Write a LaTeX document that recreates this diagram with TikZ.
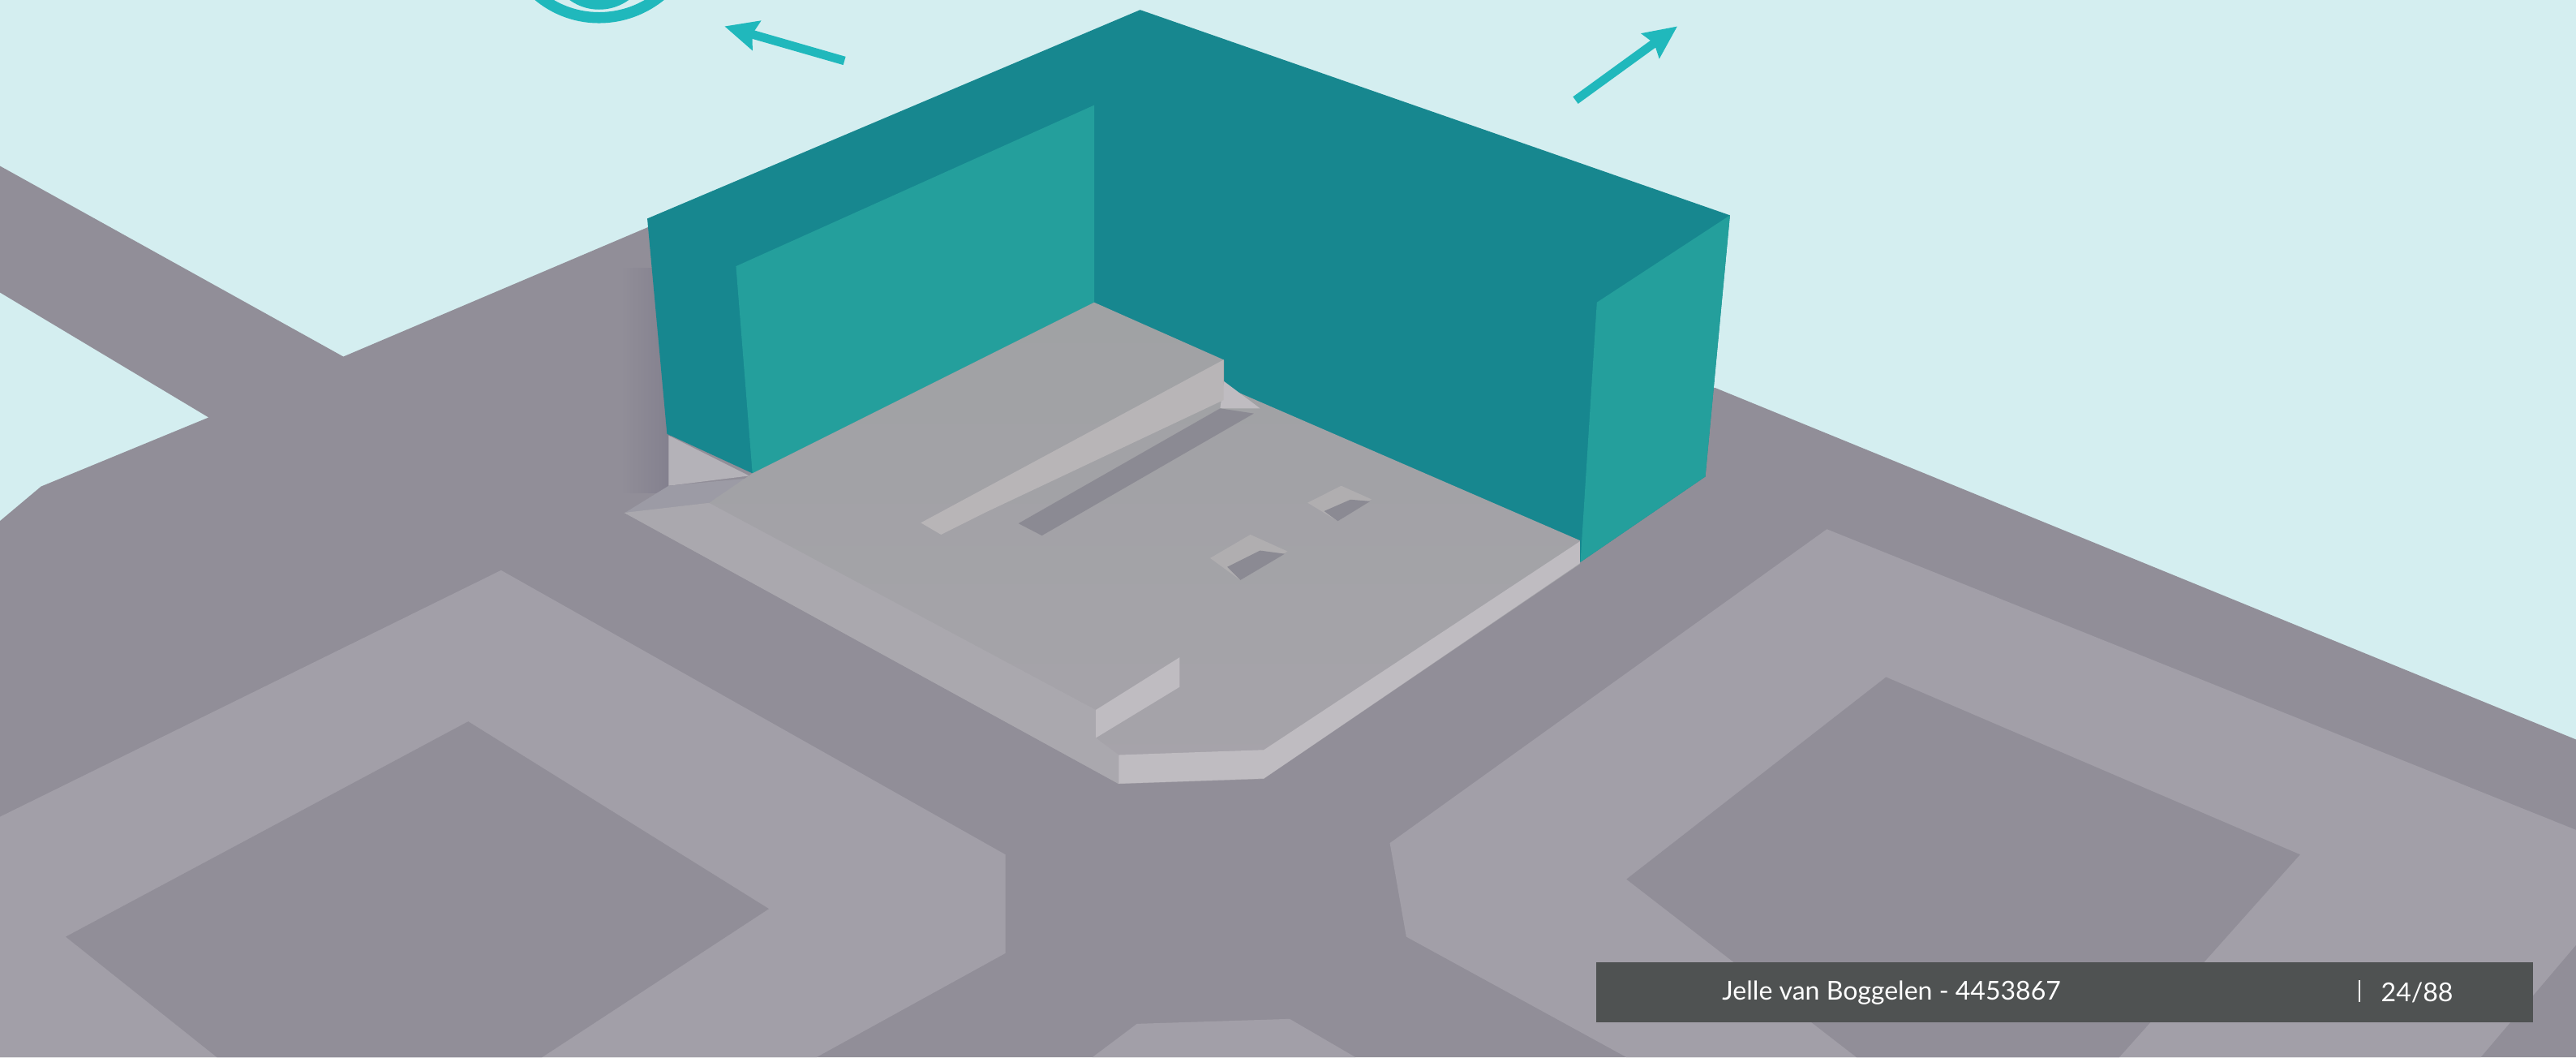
\documentclass[tikz,border=0pt]{standalone}
\usepackage{fontspec}
\setmainfont{Lato}
\usepackage{xcolor}
\usetikzlibrary{arrows.meta}
\definecolor{skyblue}{HTML}{D4EEF0}
\definecolor{roadgrey}{HTML}{918E98}
\definecolor{shadowgrey}{HTML}{83808E}
\definecolor{blockgrey}{HTML}{A29FA8}
\definecolor{plazatop}{HTML}{A0A2A4}
\definecolor{plazabottom}{HTML}{A6A3AA}
\definecolor{lipgrey}{HTML}{AAA8AE}
\definecolor{lowgrey}{HTML}{9C9BA5}
\definecolor{cornergrey}{HTML}{B4B2B8}
\definecolor{stripgrey}{HTML}{B8B5B7}
\definecolor{holegrey}{HTML}{B0AEB0}
\definecolor{edgegrey}{HTML}{BFBCC1}
\definecolor{slitgrey}{HTML}{8B8A93}
\definecolor{darkteal}{HTML}{17878F}
\definecolor{wallteal}{HTML}{249F9C}
\definecolor{arrowteal}{HTML}{20B8BC}
\definecolor{barcolor}{HTML}{4F5252}
\tikzset{
  viewarrow/.style={-{Stealth[length=0.4cm,width=0.36cm,inset=0.05cm]},arrowteal,line width=3pt},
  bartext/.style={text=white,font=\fontsize{9pt}{10pt}\selectfont,inner sep=0pt,anchor=west}
}

\begin{document}
\begin{tikzpicture}[x=0.02cm,y=-0.02cm]
  \useasboundingbox (0,0) rectangle (1568,643.3);
  \clip (0,0) rectangle (1568,643.3);
  \fill[skyblue](0,0) rectangle (1568,643.3);
  % ground and blocks
  \fill[roadgrey](0,101)--(209,217)--(395,138)--(1044,236)--(1568,450)--(1568,643.3)--(0,643.3)--(0,317)--(25,296)--(127,254)--(0,178)--cycle;
  \fill[blockgrey](0,497)--(305,347)--(612,520)--(612,580)--(497,643.3)--(0,643.3)--cycle;
  \fill[roadgrey](40,570)--(285,439)--(468,553)--(330,643.3)--(132,643.3)--cycle;
  \fill[blockgrey](846,513)--(1112,322)--(1568,505)--(1568,575)--(1510,643.3)--(990,643.3)--(856,570)--cycle;
  \fill[roadgrey](990,535)--(1148,412)--(1400,520)--(1290,643.3)--(1130,643.3)--cycle;
  \fill[blockgrey](665,643.3)--(692,623)--(785,620)--(825,643.3)--cycle;
  \shade[left color=roadgrey,right color=shadowgrey](378,163) rectangle (408,300);
  % building
  \fill[darkteal](394,133)--(694,6)--(1053,131)--(1038,290)--(962,342)--(745,240)--(458,288)--(406,264)--cycle;
  \fill[wallteal](448,162)--(666,64)--(666,184)--(458,288)--cycle;
  \fill[wallteal](972,184)--(1053,131)--(1038,290)--(962,342)--cycle;
  % plaza
  \fill[cornergrey](407,265)--(456,289.5)--(407,295.6)--cycle;
  \fill[lowgrey](407,295.6)--(456,291)--(431.6,306)--(380.4,312)--cycle;
  \shade[top color=plazatop,bottom color=plazabottom](458,288)--(666,184)--(745,219)--(745,235)--(962,329)--(962,343)--(769,474)--(681,477)--(380,312)--(431.6,306)--cycle;
  \fill[lipgrey](380,312)--(431.6,306)--(667,432)--(667,449)--(681,459.4)--(681,477)--cycle;
  \fill[edgegrey](745,232)--(767,248.5)--(742.7,248.5)--cycle;
  \fill[stripgrey](744.8,218.9)--(744.8,243.4)--(599.4,312)--(572.8,325.3)--(560.5,318.1)--cycle;
  \fill[slitgrey](742.7,248.5)--(763.2,251.6)--(634.2,325.9)--(619.9,318.5)--cycle;
  % two small holes
  \fill[holegrey](816.4,295.6)--(834.8,303.8)--(814.3,317.1)--(795.9,305.9)--cycle;
  \fill[slitgrey](834,305)--(814.3,317.1)--(806,311)--(822,304)--cycle;
  \fill[holegrey](761.1,325.3)--(783.7,335.5)--(755,353)--(736.6,339.6)--cycle;
  \fill[slitgrey](782,337)--(755,353)--(747,345)--(767,335)--cycle;
  % faces of the raised edge
  \fill[edgegrey](667,432)--(718,400)--(718,418)--(667,449)--cycle;
  \fill[edgegrey](681,459.4)--(769.3,456.3)--(769.3,473.7)--(681,476.8)--cycle;
  \fill[edgegrey](961.7,329.4)--(961.7,342.7)--(769.3,473.7)--(769.3,456.3)--cycle;
  % eye and arrows
  \fill[arrowteal](364.7,-25) circle (30.8);
  \draw[arrowteal,line width=3.8pt](322,-8)..controls (345,17) and (384,17)..(408,-8);
  \coordinate (leftstart) at (514,37);
  \coordinate (leftend) at (441,16);
  \coordinate (rightstart) at (959,61);
  \coordinate (rightend) at (1021,16);
  \draw[viewarrow](leftstart)--(leftend);
  \draw[viewarrow](rightstart)--(rightend);
  % footer
  \fill[barcolor](971.4,585.5) rectangle (1542,622);
  \node[bartext] (author) at (1048,604){Jelle van Boggelen - 4453867};
  \node[bartext] (page) at (1449,604){24/88};
  \draw[white,line width=0.6pt](1436,596.5)--(1436,609.8);
\end{tikzpicture}
\end{document}
